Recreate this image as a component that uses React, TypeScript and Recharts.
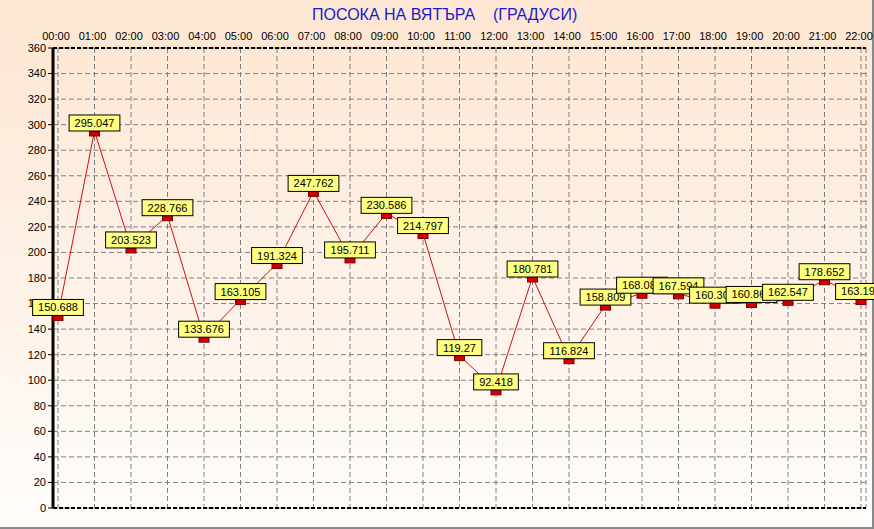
import React from 'react';
import { LineChart, Line, XAxis, YAxis, CartesianGrid, ReferenceLine, LabelList } from 'recharts';

const hours = ['00:00','01:00','02:00','03:00','04:00','05:00','06:00','07:00','08:00','09:00','10:00','11:00','12:00','13:00','14:00','15:00','16:00','17:00','18:00','19:00','20:00','21:00','22:00'];
const directions = [150.688,295.047,203.523,228.766,133.676,163.105,191.324,247.762,195.711,230.586,214.797,119.27,92.418,180.781,116.824,158.809,168.086,167.594,160.302,160.865,162.547,178.652,163.191];
const yTicks = [0,20,40,60,80,100,120,140,160,180,200,220,240,260,280,300,320,340,360];
const title = 'ПОСОКА НА ВЯТЪРА    (ГРАДУСИ)';

const data = hours.map((h, i) => ({ time: h, dir: directions[i] }));

const FONT = 'Arial, "Liberation Sans", sans-serif';

const Marker = (props: any) => {
  const { cx, cy } = props;
  if (cx == null || cy == null) return null;
  return <rect x={cx - 5} y={cy} width={10} height={5} fill="#d00000" stroke="#800000" strokeWidth={1} />;
};

const ValueBox = (props: any) => {
  const { x, y, value } = props;
  if (x == null || y == null) return null;
  const txt = String(value);
  let w = 0;
  for (const ch of txt) w += ch === '.' ? 3.06 : 6.12;
  const bw = w + 11;
  return (
    <g>
      <rect x={x - bw / 2} y={y - 16} width={bw} height={16} fill="#ffff80" stroke="#000" strokeWidth={1} />
      <text x={x} y={y - 4} textAnchor="middle" fontSize={11} fontFamily={FONT} fill="#000">{txt}</text>
    </g>
  );
};

export default function App() {
  return (
    <div style={{ position: 'absolute', left: 0, top: 0, width: 874, height: 529, boxSizing: 'border-box', borderRight: '2px solid #8a8a8a', borderBottom: '2px solid #8a8a8a', background: 'linear-gradient(to bottom, #fde6d2 0%, #fef2e8 55%, #fffdfb 100%)' }}>
      <div style={{ position: 'absolute', left: 312, top: 6, fontFamily: FONT, fontSize: 16, color: '#1a1acc', whiteSpace: 'pre', lineHeight: '18px' }}>{title}</div>
      <div style={{ position: 'absolute', left: 0, top: 0 }}>
        <LineChart width={874} height={529} data={data} margin={{ top: 28, left: 8, right: 8, bottom: 21 }}>
          <CartesianGrid yAxisId="left" stroke="#808080" strokeDasharray="5 3" />
          <XAxis dataKey="time" orientation="top" height={20} padding={{ left: 5, right: 5 }} tickLine={false}
            axisLine={{ stroke: '#000', strokeWidth: 2, strokeDasharray: '4 2' }}
            tick={{ fontSize: 11, fontFamily: FONT, fill: '#000', dx: -2 }} interval={0} />
          <YAxis yAxisId="left" width={45} domain={[0, 360]} ticks={yTicks} interval={0}
            axisLine={{ stroke: '#000', strokeWidth: 3 }} tickLine={{ stroke: '#000' }} tickSize={5} tickMargin={2}
            tick={{ fontSize: 11, fontFamily: FONT, fill: '#000' }} />
          <YAxis yAxisId="right" orientation="right" width={0} domain={[0, 360]} ticks={yTicks} tick={false} tickLine={false}
            axisLine={{ stroke: '#000', strokeWidth: 2 }} />
          <ReferenceLine yAxisId="left" y={0} stroke="#000" strokeWidth={2} strokeDasharray="4 2" />
          <Line yAxisId="left" type="linear" dataKey="dir" stroke="#cc1010" strokeWidth={1} isAnimationActive={false}
            dot={<Marker />} activeDot={false}>
            <LabelList dataKey="dir" content={<ValueBox />} />
          </Line>
        </LineChart>
      </div>
    </div>
  );
}
